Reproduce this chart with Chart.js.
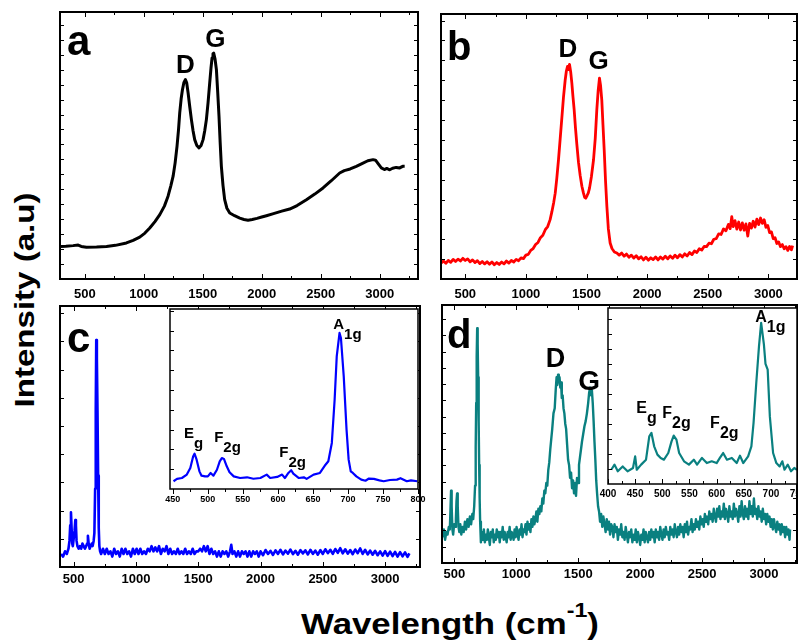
<!DOCTYPE html>
<html>
<head>
<meta charset="utf-8">
<script src="https://cdn.jsdelivr.net/npm/chart.js@4.4.1/dist/chart.umd.min.js"></script>
<style>
  html, body { margin: 0; padding: 0; background: #fff; }
  body { width: 798px; height: 644px; position: relative; overflow: hidden; font-family: "Liberation Sans", Arial, sans-serif; }
  .title { position: absolute; font-weight: bold; white-space: nowrap; color: #000; }
  #ytitle { left: 25px; top: 300px; font-size: 28px; line-height: 28px; transform: translate(-50%, -50%) rotate(-90deg) scaleX(1.18); }
  #xtitle { left: 450px; top: 609px; font-size: 30px; line-height: 30px; transform: translateX(-50%) scaleX(1.16); }
  #xtitle sup { font-size: 20px; vertical-align: baseline; position: relative; top: -17px; }
</style>
</head>
<body>
<div id="ytitle" class="title">Intensity (a.u)</div>
<div id="xtitle" class="title">Wavelength (cm<sup>-1</sup>)</div>
<script>
// tick labels
const xTicksMain = [500, 1000, 1500, 2000, 2500, 3000];
const xTicksInsetC = [450, 500, 550, 600, 650, 700, 750, 800];
const xTicksInsetD = [400, 450, 500, 550, 600, 650, 700, 750];

// spectra: [wavenumber, intensity in % of panel height]
const spectrumA = [[294,12.2],[340,12.3],[401,12.5],[444,12.7],[470,12.2],[514,11.9],[600,12.0],[684,12.2],[760,12.6],[853,13.5],[910,14.5],[966,15.7],[1010,17.2],[1051,19.1],[1095,21.5],[1136,24.1],[1175,27.3],[1206,31.0],[1230,35.0],[1249,38.5],[1266,43.5],[1282,49.7],[1295,56],[1305,62.2],[1317,67.5],[1328,70.9],[1340,73.5],[1353,74.7],[1364,73.5],[1376,69.7],[1390,64.5],[1404,59.7],[1418,55.5],[1432,52.2],[1450,50.0],[1469,49.1],[1486,50.0],[1503,52.2],[1517,55.5],[1531,59.7],[1545,66],[1559,73.4],[1570,79],[1579,82.8],[1587,84.4],[1593,84.6],[1604,82.5],[1616,78.4],[1627,70],[1638,60.9],[1648,51],[1658,42.2],[1672,35],[1686,29.7],[1705,26.5],[1729,24.7],[1770,23.7],[1814,22.8],[1850,22.3],[1884,22.0],[1920,22.3],[1960,22.7],[2000,23.2],[2040,23.7],[2100,24.5],[2170,25.4],[2237,26.2],[2300,27.5],[2379,29.7],[2450,31.8],[2520,34.1],[2590,36.8],[2661,39.7],[2700,40.6],[2750,41.2],[2802,42.2],[2850,43.2],[2900,44.3],[2944,44.7],[2965,44.5],[2990,43.0],[3014,41.6],[3040,41.0],[3060,41.4],[3085,40.9],[3110,41.5],[3140,41.8],[3170,41.6],[3195,42.2],[3212,42.2]];

const spectrumB = [[302,6.0],[320,6.8],[340,5.9],[360,7.0],[380,6.3],[400,7.4],[420,6.6],[440,7.5],[460,6.8],[480,7.8],[500,7.0],[520,7.6],[540,6.5],[560,7.2],[580,6.2],[600,6.9],[620,5.8],[640,6.6],[660,5.7],[680,6.5],[700,5.6],[720,6.4],[740,5.4],[760,6.2],[780,5.5],[800,6.4],[820,5.7],[840,6.8],[860,6.0],[880,7.0],[900,6.4],[920,7.4],[940,6.9],[960,8.0],[980,7.7],[1000,9.0],[1020,9.3],[1040,10.8],[1060,11.5],[1080,13.0],[1100,13.8],[1120,15.6],[1140,16.5],[1160,18.6],[1180,19.8],[1200,22.4],[1215,25.5],[1230,29],[1242,32.4],[1255,38],[1269,45],[1283,53],[1297,61],[1310,68.5],[1324,75],[1334,78.5],[1343,80.2],[1352,79],[1360,81],[1370,78],[1379,74],[1388,69],[1398,64],[1409,57],[1420,51],[1434,44],[1448,39],[1462,35],[1475,32.4],[1485,30.8],[1494,30.5],[1505,31.5],[1515,32.5],[1525,34.3],[1540,38.5],[1558,45],[1572,53],[1585,63.8],[1596,71],[1607,75.8],[1616,73],[1626,67.6],[1636,58],[1646,48.7],[1657,37],[1668,27.4],[1680,19],[1695,13.6],[1710,11.5],[1730,10.2],[1750,9.8],[1770,9.0],[1790,9.8],[1810,8.6],[1830,9.4],[1850,8.2],[1870,9.0],[1890,7.9],[1910,8.8],[1930,7.6],[1950,8.4],[1970,7.2],[1990,8.2],[2010,7.1],[2030,8.0],[2050,7.3],[2070,8.3],[2090,7.2],[2110,8.3],[2130,7.5],[2150,8.6],[2170,7.6],[2190,8.7],[2210,7.8],[2230,9.0],[2250,8.0],[2270,9.2],[2290,8.3],[2310,9.5],[2330,8.7],[2350,10.0],[2370,9.2],[2390,10.6],[2410,10.0],[2430,11.4],[2450,10.9],[2470,12.3],[2490,12.2],[2510,13.5],[2530,13.3],[2550,15.0],[2570,15.2],[2590,17.0],[2610,16.8],[2630,18.9],[2650,18.2],[2670,20.6],[2685,19.0],[2698,23.5],[2710,19.8],[2725,22.0],[2740,18.8],[2755,21.5],[2770,18.5],[2785,21.2],[2800,18.4],[2815,20.8],[2830,16.2],[2845,21.0],[2860,19.2],[2875,21.8],[2890,19.6],[2905,22.6],[2920,20.5],[2935,23.0],[2950,21.0],[2965,22.4],[2980,19.5],[2995,20.2],[3010,17.5],[3025,17.8],[3040,15.2],[3055,15.6],[3070,13.4],[3085,14.0],[3100,12.2],[3115,13.0],[3130,11.4],[3145,12.2],[3160,10.8],[3175,12.3],[3190,11.0],[3200,12.6]];

const spectrumC = [[398,5],[415,4],[430,6],[445,5],[458,7],[466,10],[472,16],[478,21],[483,15],[488,9],[493,8],[500,11],[507,14],[513,18],[518,16],[523,10],[530,8],[540,7],[550,8],[560,7],[570,9],[580,8],[590,7],[600,8],[608,9],[614,12],[620,9],[628,7],[636,8],[645,9],[652,8],[660,10],[666,13],[672,30],[677,60],[681,87],[686,80],[691,60],[696,35],[701,15],[706,8],[712,6],[720,5],[735,7],[750,5],[765,7],[780,5],[795,6],[810,4],[825,7],[840,5],[855,6],[870,4],[885,7],[900,5],[915,7],[930,5],[945,6],[960,4],[975,7],[990,5],[1005,7],[1020,5],[1035,7],[1050,5],[1065,6],[1080,5],[1095,7],[1110,6],[1125,8],[1140,6],[1155,7.5],[1170,6],[1185,8],[1200,5],[1215,7],[1230,6],[1245,8],[1260,5],[1275,7],[1290,5],[1305,6],[1320,5],[1335,7],[1350,5],[1365,6],[1380,5],[1395,7],[1410,5],[1425,6],[1440,5],[1455,7],[1470,5],[1485,6],[1500,6],[1515,7],[1530,6],[1545,8],[1560,6],[1575,8],[1590,5],[1605,7],[1620,5],[1635,6],[1650,4],[1665,6],[1680,4],[1695,6],[1710,5],[1725,6],[1740,4],[1755,6],[1765,8.5],[1775,5],[1790,6],[1805,4],[1820,6],[1835,4],[1850,6],[1865,5],[1880,6],[1895,4],[1910,6],[1925,4],[1940,6],[1955,5],[1970,6],[1985,4],[2000,6],[2020,4.5],[2040,6.5],[2060,5],[2080,6.2],[2100,4.6],[2120,6.4],[2140,5],[2160,6.6],[2180,4.8],[2200,6.3],[2220,5.1],[2240,6.7],[2260,4.9],[2280,6.2],[2300,4.7],[2320,6.5],[2340,5.2],[2360,6.4],[2380,4.8],[2400,6.6],[2420,5.0],[2440,6.3],[2460,4.7],[2480,6.5],[2500,5.0],[2520,6.8],[2540,5.3],[2560,6.6],[2580,5.0],[2600,6.9],[2620,5.4],[2640,7.2],[2660,5.2],[2680,6.8],[2700,5.1],[2720,6.5],[2740,4.9],[2760,6.7],[2780,5.3],[2800,7.1],[2820,5.0],[2840,6.6],[2860,4.8],[2880,6.3],[2900,4.7],[2920,6.2],[2940,4.5],[2960,6.0],[2980,4.4],[3000,6.1],[3020,4.3],[3040,5.9],[3060,4.2],[3080,5.8],[3100,4.0],[3120,5.7],[3140,4.1],[3160,5.6],[3180,3.9],[3195,5.2]];

const insetC = [[451,4.3],[456,5.6],[463,6.1],[470,8.0],[475,11.7],[479,18.1],[481,19.6],[484,16.3],[488,9.8],[491,7.4],[496,7.0],[500,7.0],[504,8.9],[508,7.4],[513,10.7],[517,15.4],[520,17.2],[523,16.7],[527,12.6],[531,9.3],[537,7.0],[546,6.1],[556,6.5],[565,5.7],[575,6.1],[584,8.0],[589,6.1],[599,6.7],[606,8.0],[610,6.1],[615,8.9],[619,10.4],[622,8.5],[630,6.1],[637,6.5],[641,5.6],[651,8.0],[660,8.9],[668,13.5],[672,15.4],[677,25.6],[681,49.6],[684,73.7],[688,86.7],[690,83.9],[694,62.6],[698,33.0],[701,16.3],[704,9.8],[707,8.9],[712,7.0],[719,5.2],[725,4.6],[730,5.8],[737,5.6],[745,4.8],[751,4.3],[760,5.0],[770,5.2],[775,6.0],[784,4.3],[790,4.8],[799,4.3]];

const spectrumD = [[405,10],[415,13],[425,9],[435,12],[445,11],[455,14],[463,13],[468,20],[473,28],[478,22],[484,13],[490,11],[498,15],[505,14],[512,17],[517,24],[522,27],[527,22],[533,14],[540,12],[548,15],[556,11],[565,14],[575,12],[585,16],[595,13],[605,17],[615,14],[625,18],[635,15],[645,19],[652,17],[660,22],[667,30],[672,45],[676,62],[680,80],[684,91],[688,85],[692,72],[696,55],[700,38],[704,25],[708,16],[714,8],[722,12],[730,9],[738,13],[746,8],[754,11],[762,9],[770,13],[778,10],[786,7],[794,12],[802,10],[810,13],[818,8],[826,11],[834,9],[842,13],[850,10],[858,12],[866,8],[874,12],[882,10],[890,14],[898,9],[906,12],[914,10],[922,8],[930,12],[938,10],[946,14],[954,9],[962,12],[970,11],[978,9],[986,13],[994,10],[1002,14],[1010,11],[1018,9],[1026,13],[1034,11],[1042,15],[1050,10],[1058,13],[1066,12],[1074,15],[1082,11],[1090,16],[1098,13],[1106,15],[1114,12],[1122,17],[1130,14],[1138,18],[1146,15],[1154,17],[1162,20],[1170,16],[1178,21],[1186,19],[1194,22],[1202,20],[1210,25],[1218,23],[1226,28],[1234,27],[1242,31],[1250,30],[1258,36],[1266,39],[1274,44],[1282,48],[1290,52],[1300,58],[1310,60],[1318,67],[1325,72],[1331,69],[1337,73],[1343,70],[1349,72],[1355,68],[1361,70],[1367,64],[1374,65],[1381,60],[1388,58],[1395,54],[1402,52],[1410,46],[1418,40],[1426,38],[1434,33],[1442,35],[1450,29],[1458,32],[1466,27],[1474,31],[1482,26],[1490,33],[1498,31],[1506,38],[1514,41],[1522,44],[1530,47],[1540,50],[1550,53],[1560,55],[1570,58],[1580,62],[1588,66],[1596,68],[1603,65],[1610,67],[1617,62],[1624,55],[1631,47],[1638,40],[1645,32],[1652,27],[1660,22],[1668,20],[1676,16],[1685,19],[1694,14],[1703,18],[1712,15],[1721,12],[1730,17],[1739,13],[1748,16],[1757,11],[1766,15],[1775,14],[1784,10],[1793,15],[1802,12],[1811,14],[1820,9],[1829,13],[1838,11],[1847,15],[1856,10],[1865,12],[1874,9],[1883,14],[1892,11],[1901,8],[1910,12],[1919,10],[1928,13],[1937,8],[1946,11],[1955,9],[1964,13],[1973,8],[1982,12],[1991,10],[2000,7],[2009,11],[2018,9],[2027,13],[2036,8],[2045,12],[2054,10],[2063,8],[2072,12],[2081,9],[2090,13],[2099,10],[2108,12],[2117,8],[2126,13],[2135,10],[2144,12],[2153,9],[2162,14],[2171,11],[2180,9],[2189,13],[2198,10],[2207,14],[2216,11],[2225,12],[2234,9],[2243,14],[2252,11],[2261,13],[2270,10],[2279,15],[2288,12],[2297,10],[2306,14],[2315,11],[2324,15],[2333,12],[2342,14],[2351,10],[2360,15],[2369,12],[2378,16],[2387,11],[2396,14],[2405,13],[2414,17],[2423,12],[2432,15],[2441,13],[2450,17],[2459,14],[2468,16],[2477,13],[2486,18],[2495,15],[2504,17],[2513,14],[2522,19],[2531,16],[2540,18],[2549,15],[2558,20],[2567,17],[2576,19],[2585,16],[2594,21],[2603,18],[2612,16],[2621,21],[2630,18],[2639,22],[2648,17],[2657,20],[2666,18],[2675,23],[2684,17],[2693,21],[2702,19],[2711,16],[2720,22],[2729,18],[2738,20],[2747,17],[2756,23],[2765,18],[2774,21],[2783,19],[2792,16],[2801,22],[2810,18],[2819,24],[2828,19],[2837,17],[2846,22],[2855,18],[2864,21],[2873,17],[2882,24],[2891,19],[2900,22],[2909,18],[2918,25],[2927,19],[2936,21],[2945,17],[2954,22],[2963,18],[2972,20],[2981,16],[2990,21],[2999,17],[3008,19],[3017,15],[3026,19],[3035,16],[3044,18],[3053,14],[3062,17],[3071,13],[3080,17],[3089,14],[3098,12],[3107,16],[3116,13],[3125,15],[3134,11],[3143,15],[3152,12],[3161,14],[3170,10],[3179,14],[3188,11],[3197,13],[3206,9],[3210,13]];

const insetD = [[406,8.1],[412,11.0],[418,7.2],[427,10.0],[436,7.2],[446,9.1],[450,15.7],[453,8.1],[461,11.0],[470,13.8],[476,27.1],[480,29.0],[485,21.4],[491,16.7],[497,14.8],[503,13.8],[511,17.6],[517,24.2],[521,27.5],[526,25.2],[531,17.6],[540,12.9],[549,11.0],[558,13.8],[564,11.0],[573,14.8],[582,11.9],[591,12.9],[600,11.9],[606,14.8],[612,17.6],[619,13.8],[628,14.8],[637,11.9],[643,16.1],[649,11.9],[658,15.7],[664,21.4],[668,34.7],[673,57.4],[678,78.2],[682,91.5],[687,79.5],[690,68.2],[694,65.0],[698,38.4],[704,17.6],[710,11.9],[716,10.0],[721,12.9],[725,8.1],[731,11.0],[737,7.2],[743,9.1],[748,8.1]];

const FONT = '"Liberation Sans", Arial, sans-serif';

// box, inward ticks and text labels drawn with the chart's own scales
const framePlugin = {
  id: 'frame',
  beforeDraw(chart, args, o) {
    if (!o.fill) return;
    const a = chart.chartArea, ctx = chart.ctx;
    ctx.save();
    ctx.fillStyle = '#fff';
    ctx.fillRect(a.left, a.top, a.right - a.left, a.bottom - a.top);
    ctx.restore();
  },
  afterDatasetsDraw(chart, args, o) {
    const { ctx, chartArea: a } = chart;
    const x = chart.scales.x, y = chart.scales.y;
    ctx.save();
    ctx.strokeStyle = '#000';
    ctx.lineWidth = 1;
    ctx.beginPath();
    const dir = o.tickOut ? 1 : -1;
    for (let v = Math.ceil(x.min / o.xMinor) * o.xMinor; v <= x.max; v += o.xMinor) {
      const px = Math.round(x.getPixelForValue(v)) + 0.5;
      const len = v % o.xMajor === 0 ? 5 : 3;
      ctx.moveTo(px, a.bottom); ctx.lineTo(px, a.bottom + dir * len);
      if (o.mirror) { ctx.moveTo(px, a.top); ctx.lineTo(px, a.top + len); }
    }
    for (let v = o.yStep; v < 100; v += o.yStep) {
      const py = Math.round(y.getPixelForValue(v)) + 0.5;
      ctx.moveTo(a.left, py); ctx.lineTo(a.left + 4, py);
      if (o.mirror) { ctx.moveTo(a.right, py); ctx.lineTo(a.right - 4, py); }
    }
    ctx.stroke();
    ctx.lineWidth = o.border;
    ctx.strokeRect(a.left, a.top, a.right - a.left, a.bottom - a.top);

    ctx.fillStyle = '#000';
    ctx.textBaseline = 'alphabetic';
    ctx.textAlign = 'left';
    (o.labels || []).forEach(l => {
      ctx.font = `bold ${l.size}px ${FONT}`;
      let px = x.getPixelForValue(l.x);
      const py = y.getPixelForValue(l.y);
      const w = ctx.measureText(l.text).width;
      if (l.center) px -= w / 2;
      ctx.fillText(l.text, px, py);
      if (l.sub) ctx.fillText(l.sub, px + w, py + l.size * 0.65);
    });
    ctx.restore();
  }
};

function makePanel(cfg) {
  const padL = 14, padR = 14, padT = 4;
  const [L, R, T, B] = cfg.box;
  const w = R - L + padL + padR;
  const h = B - T + padT + cfg.axisH;
  const cv = document.createElement('canvas');
  cv.width = w; cv.height = h;
  cv.style.cssText = `position:absolute;left:${L - padL}px;top:${T - padT}px;width:${w}px;height:${h}px;`;
  document.body.appendChild(cv);

  new Chart(cv, {
    type: 'line',
    data: {
      datasets: [{
        data: cfg.data,
        borderColor: cfg.color,
        borderWidth: cfg.lineWidth,
        pointRadius: 0,
        fill: false,
        tension: 0,
        borderJoinStyle: 'round'
      }]
    },
    options: {
      responsive: false,
      animation: false,
      events: [],
      layout: { padding: { left: padL, right: padR, top: padT, bottom: 0 } },
      plugins: {
        legend: { display: false },
        tooltip: { enabled: false },
        frame: cfg.frame
      },
      scales: {
        x: {
          type: 'linear',
          min: cfg.xMin,
          max: cfg.xMax,
          grid: { display: false, drawTicks: false },
          border: { display: false },
          afterBuildTicks: s => { s.ticks = cfg.xTicks.map(v => ({ value: v })); },
          afterFit: s => { s.height = cfg.axisH; },
          ticks: {
            autoSkip: false,
            maxRotation: 0,
            padding: cfg.tickPad,
            color: '#000',
            font: { family: FONT, weight: 'bold', size: cfg.tickSize },
            callback: v => String(v)
          }
        },
        y: { display: false, min: 0, max: 100 }
      }
    },
    plugins: [framePlugin]
  });
}

makePanel({
  box: [60, 418, 12, 279], axisH: 26, tickPad: 8, tickSize: 13,
  xMin: 290, xMax: 3325, xTicks: xTicksMain,
  data: spectrumA, color: '#000000', lineWidth: 3,
  frame: { border: 2, xMinor: 250, xMajor: 500, yStep: 5.6, mirror: true, labels: [
    { text: 'a', x: 349, y: 83.9, size: 42 },
    { text: 'D', x: 1354, y: 77.2, size: 26, center: true },
    { text: 'G', x: 1608, y: 86.9, size: 26, center: true }
  ] }
});

makePanel({
  box: [441, 797, 14, 279], axisH: 26, tickPad: 8, tickSize: 13,
  xMin: 300, xMax: 3236, xTicks: xTicksMain,
  data: spectrumB, color: '#ff0000', lineWidth: 2.8,
  frame: { border: 2, xMinor: 250, xMajor: 500, yStep: 7.5, mirror: true, labels: [
    { text: 'b', x: 349, y: 82.6, size: 40 },
    { text: 'D', x: 1347, y: 83.8, size: 26, center: true },
    { text: 'G', x: 1599, y: 79.2, size: 26, center: true }
  ] }
});

makePanel({
  box: [60, 420, 306, 567], axisH: 26, tickPad: 5, tickSize: 13,
  xMin: 390, xMax: 3280, xTicks: xTicksMain,
  data: spectrumC, color: '#0000ff', lineWidth: 2.6,
  frame: { border: 2, xMinor: 250, xMajor: 500, yStep: 10.8, mirror: true, labels: [
    { text: 'c', x: 446, y: 82.4, size: 42 }
  ] }
});

makePanel({
  box: [170, 418, 309, 489], axisH: 18, tickPad: 5, tickSize: 9,
  xMin: 446, xMax: 800, xTicks: xTicksInsetC,
  data: insetC, color: '#0000ff', lineWidth: 2.2,
  frame: { fill: true, border: 1.5, xMinor: 25, xMajor: 50, yStep: 11, tickOut: true, labels: [
    { text: 'E', sub: 'g', x: 466, y: 28.3, size: 15 },
    { text: 'F', sub: '2g', x: 509, y: 26.1, size: 15 },
    { text: 'F', sub: '2g', x: 602, y: 17.8, size: 15 },
    { text: 'A', sub: '1g', x: 679, y: 88.9, size: 15 }
  ] }
});

makePanel({
  box: [442, 797, 305, 563], axisH: 26, tickPad: 4, tickSize: 13,
  xMin: 400, xMax: 3266, xTicks: xTicksMain,
  data: spectrumD, color: '#0a8080', lineWidth: 2.4,
  frame: { border: 2, xMinor: 250, xMajor: 500, yStep: 6.3, mirror: true, labels: [
    { text: 'd', x: 440, y: 83.3, size: 40 },
    { text: 'D', x: 1316, y: 76.0, size: 27, center: true },
    { text: 'G', x: 1587, y: 67.1, size: 28, center: true }
  ] }
});

makePanel({
  box: [608, 797, 308, 484], axisH: 18, tickPad: 4, tickSize: 10,
  xMin: 400, xMax: 748, xTicks: xTicksInsetD,
  data: insetD, color: '#0a8080', lineWidth: 2.2,
  frame: { fill: true, border: 1.5, xMinor: 25, xMajor: 50, yStep: 8.5, labels: [
    { text: 'E', sub: 'g', x: 452, y: 40.3, size: 16 },
    { text: 'F', sub: '2g', x: 500, y: 37.5, size: 16 },
    { text: 'F', sub: '2g', x: 588, y: 31.8, size: 16 },
    { text: 'A', sub: '1g', x: 671, y: 92.0, size: 16 }
  ] }
});
</script>
</body>
</html>
